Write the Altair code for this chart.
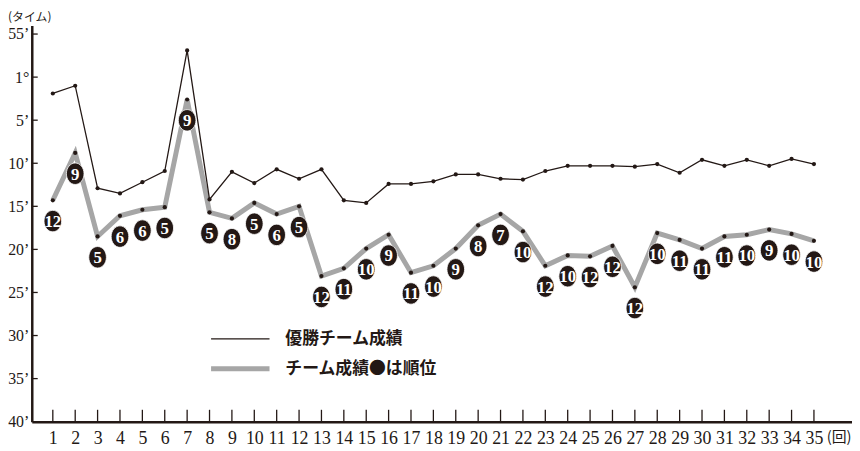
import pandas as pd
import altair as alt

# 回数
rounds = list(range(1, 36))
# タイム (分) 優勝チーム
winner = [61.9, 61.0, 72.9, 73.5, 72.2, 70.9, 56.9, 74.2, 71.0, 72.3,
          70.7, 71.8, 70.7, 74.3, 74.6, 72.4, 72.4, 72.1, 71.3, 71.3,
          71.8, 71.9, 70.9, 70.3, 70.3, 70.3, 70.4, 70.1, 71.1, 69.6,
          70.3, 69.6, 70.3, 69.5, 70.1]
# タイム (分) チーム成績
team = [74.3, 68.8, 78.5, 76.1, 75.4, 75.1, 62.6, 75.7, 76.4, 74.6,
        75.9, 75.0, 83.1, 82.2, 79.9, 78.3, 82.7, 81.9, 79.9, 77.2,
        75.9, 77.9, 81.9, 80.7, 80.8, 79.6, 84.4, 78.1, 78.9, 79.9,
        78.5, 78.3, 77.7, 78.2, 79.0]
# 順位
ranks = [12, 9, 5, 6, 6, 5, 9, 5, 8, 5, 6, 5, 12, 11, 10, 9, 11, 10, 9, 8,
         7, 10, 12, 10, 12, 12, 12, 10, 11, 11, 11, 10, 9, 10, 10]
y_ticks = [55, 60, 65, 70, 75, 80, 85, 90, 95, 100]
legend_labels = ['優勝チーム成績', 'チーム成績●は順位']
y_title = '(タイム)'
x_title = '(回)'

df = pd.DataFrame({'round': rounds, 'winner': winner, 'team': team, 'rank': ranks})
one = pd.DataFrame({'a': [0]})

W, H = 828, 400
NARROW = 'Liberation Sans Narrow'
JP = 'Noto Sans CJK JP'
GRAY = '#a6a6a6'
INK = '#231815'

x_scale = alt.Scale(domain=[0.06, 36.7], nice=False, zero=False)
y_scale = alt.Scale(domain=[54, 100], reverse=True, nice=False, zero=False)
x_axis = alt.Axis(values=rounds, title=None, labelPadding=8, labelOverlap=False,
                  labelFontSize=18, labelBound=False, labelFlush=False)
y_axis = alt.Axis(values=y_ticks, title=None, labelPadding=3, labelOverlap=False,
                  labelFontSize=16,
                  labelExpr="datum.value == 55 ? '55’' : datum.value == 60 ? '1°' : (datum.value - 60) + '’'")


def xe(field):
    return alt.X(field, type='quantitative', scale=x_scale, axis=x_axis, title=None)


def ye(field):
    return alt.Y(field, type='quantitative', scale=y_scale, axis=y_axis, title=None)


base = alt.Chart(df)

team_line = base.mark_line(color=GRAY, strokeWidth=5).encode(x=xe('round'), y=ye('team'))
team_dots = base.mark_circle(color=INK, size=18, opacity=1).encode(x=xe('round'), y=ye('team'))
win_line = base.mark_line(color=INK, strokeWidth=1.3).encode(x=xe('round'), y=ye('winner'))
win_dots = base.mark_circle(color=INK, size=18, opacity=1).encode(x=xe('round'), y=ye('winner'))

ellipse = 'M0,-1 A0.82,1 0 1,1 0,1 A0.82,1 0 1,1 0,-1 Z'
rank_bg = base.mark_point(shape=ellipse, filled=True, color=INK, opacity=1,
                          size=470, yOffset=21, stroke='white', strokeWidth=0.8).encode(
    x=xe('round'), y=ye('team'))
rank_txt = base.mark_text(color='white', font=NARROW, fontSize=17, fontWeight='bold',
                          baseline='middle', dy=22).encode(
    x=xe('round'), y=ye('team'), text='rank:N')

# 内向きの目盛り
xt = alt.Chart(pd.DataFrame({'round': rounds})).mark_rule(color=INK, strokeWidth=1.3).encode(
    x=xe('round'), y=alt.value(H), y2=alt.value(H - 12))
yt = alt.Chart(pd.DataFrame({'team': y_ticks[:-1]})).mark_rule(color=INK, strokeWidth=1.3).encode(
    y=ye('team'), x=alt.value(0), x2=alt.value(6))

# 凡例
leg1 = alt.Chart(one).mark_rule(color=INK, strokeWidth=1.3).encode(
    x=alt.value(181), x2=alt.value(240), y=alt.value(316.5))
leg2 = alt.Chart(one).mark_rule(color=GRAY, strokeWidth=5).encode(
    x=alt.value(181), x2=alt.value(240), y=alt.value(346.5))
leg_t1 = alt.Chart(one).mark_text(font=JP, fontSize=17, fontWeight='bold', align='left',
                                  baseline='middle', color=INK).encode(
    x=alt.value(256), y=alt.value(316.5), text=alt.value(legend_labels[0]))
leg_t2 = alt.Chart(one).mark_text(font=JP, fontSize=17, fontWeight='bold', align='left',
                                  baseline='middle', color=INK).encode(
    x=alt.value(256), y=alt.value(346.5), text=alt.value(legend_labels[1]))

ytitle = alt.Chart(one).mark_text(font=JP, fontSize=12, align='left', baseline='middle',
                                  color=INK).encode(
    x=alt.value(-24), y=alt.value(-8.5), text=alt.value(y_title))
xtitle = alt.Chart(one).mark_text(font=JP, fontSize=15, align='center', baseline='middle',
                                  color=INK).encode(
    x=alt.value(815), y=alt.value(416), text=alt.value(x_title))

chart = alt.layer(
    team_line, win_line, team_dots, win_dots, rank_bg, rank_txt,
    xt, yt, leg1, leg2, leg_t1, leg_t2, ytitle, xtitle
).properties(
    width=W, height=H,
    autosize=alt.AutoSizeParams(type='none'),
    padding={'left': 24, 'top': 15.5, 'right': 0, 'bottom': 27},
).configure_view(stroke=None).configure_axis(
    grid=False, ticks=False, domainColor=INK, domainWidth=2.5,
    labelFont=NARROW, labelColor=INK,
)

chart.save('out.html', embed_options={'renderer': 'svg', 'actions': False})
